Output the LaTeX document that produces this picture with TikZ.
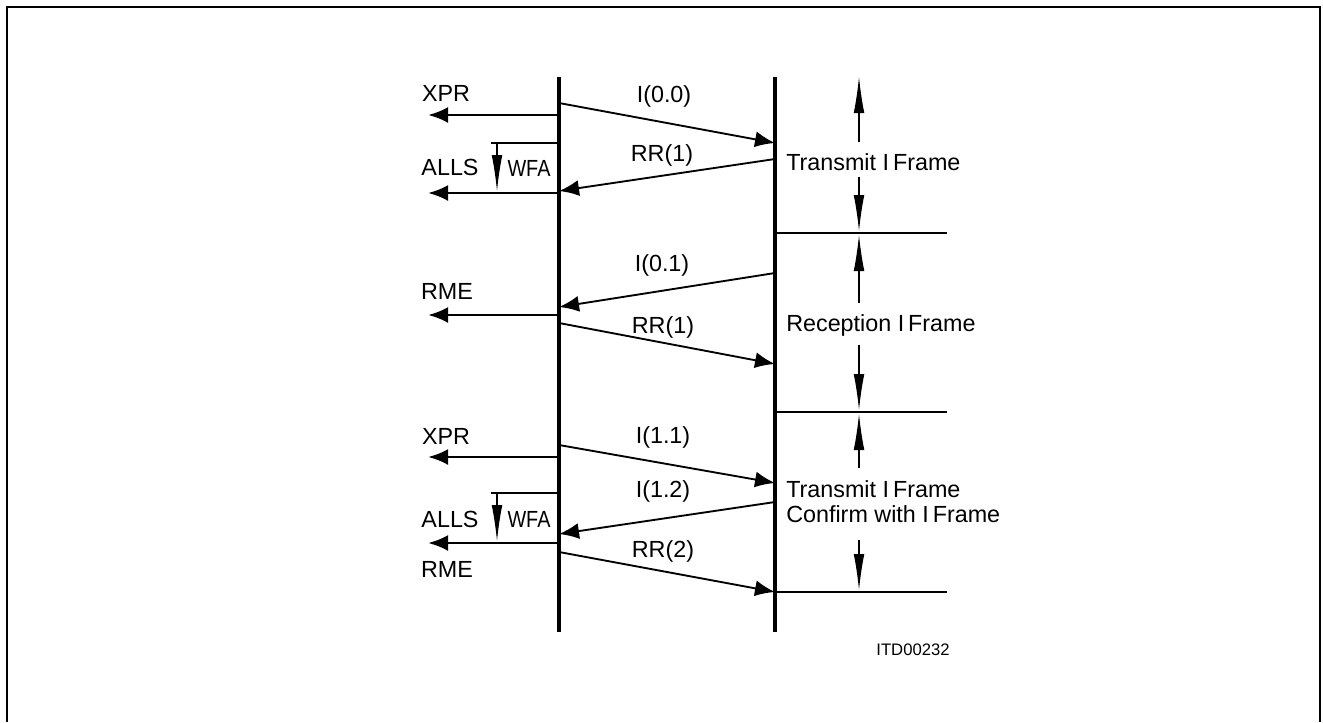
\documentclass[tikz,border=0pt]{standalone}
\usepackage{fontspec}
\setmainfont{Liberation Sans}
\usetikzlibrary{arrows.meta}
\begin{document}
\begin{tikzpicture}[x=0.75pt,y=-0.75pt,
  lifeline/.style={line width=3pt},
  outarrow/.style={line width=2.2pt,-{Latex[length=15pt,width=12pt]}},
  msg/.style={line width=1.4pt,-{Latex[length=15pt,width=12pt]}},
  thinline/.style={line width=0.8pt},
  dimarrow/.style={line width=0.8pt,-{Latex[length=27pt,width=8pt]}},
  lbl/.style={font=\fontsize{17.5}{20}\selectfont, inner sep=0pt},
  smalllbl/.style={font=\fontsize{12.5}{14}\selectfont, inner sep=0pt},
  ]
\useasboundingbox (0,0) rectangle (1323,722);
% frame (open at the bottom)
\draw[line width=1.5pt] (7,722) -- (7,7) -- (1320,7) -- (1320,722);

% lifelines
\coordinate (Atop) at (559,77);
\coordinate (Abot) at (559,632);
\coordinate (Btop) at (775,77);
\coordinate (Bbot) at (775,632);
\draw[lifeline] (Atop) -- (Abot);
\draw[lifeline] (Btop) -- (Bbot);

% ---------- section 1 ----------
\coordinate (xpr1s) at (559,115);  \coordinate (xpr1e) at (428,115);
\draw[outarrow] (xpr1s) -- (xpr1e);
\node[lbl] (xpr1) at (446,93) {XPR};

\coordinate (m1s) at (559,103); \coordinate (m1e) at (775,143);
\draw[msg] (m1s) -- (m1e);
\node[lbl] (m1l) at (664,96) {I(0.0)};

\coordinate (m2s) at (775,159); \coordinate (m2e) at (559,191);
\draw[msg] (m2s) -- (m2e);
\node[lbl] (m2l) at (662,155) {RR(1)};

\coordinate (alls1s) at (559,193); \coordinate (alls1e) at (428,193);
\draw[outarrow] (alls1s) -- (alls1e);
\node[lbl] (alls1) at (450,167) {ALLS};

\coordinate (wfa1a) at (491,143); \coordinate (wfa1b) at (559,143);
\draw[thinline] (wfa1a) -- (wfa1b);
\coordinate (wfa1s) at (497,143); \coordinate (wfa1e) at (497,191);
\draw[dimarrow] (wfa1s) -- (wfa1e);
\node[lbl] (wfa1) at (529,168) {\scalebox{0.85}[1]{WFA}};

% ---------- section 2 ----------
\coordinate (m3s) at (775,273); \coordinate (m3e) at (559,307);
\draw[msg] (m3s) -- (m3e);
\node[lbl] (m3l) at (662,265) {I(0.1)};

\coordinate (rme1s) at (559,315); \coordinate (rme1e) at (428,315);
\draw[outarrow] (rme1s) -- (rme1e);
\node[lbl] (rme1) at (447,291) {RME};

\coordinate (m4s) at (559,323); \coordinate (m4e) at (775,364);
\draw[msg] (m4s) -- (m4e);
\node[lbl] (m4l) at (663,327) {RR(1)};

% ---------- section 3 ----------
\coordinate (xpr2s) at (559,457);  \coordinate (xpr2e) at (428,457);
\draw[outarrow] (xpr2s) -- (xpr2e);
\node[lbl] (xpr2) at (446,436) {XPR};

\coordinate (m5s) at (559,445); \coordinate (m5e) at (775,483);
\draw[msg] (m5s) -- (m5e);
\node[lbl] (m5l) at (663,437) {I(1.1)};

\coordinate (m6s) at (775,502); \coordinate (m6e) at (559,534);
\draw[msg] (m6s) -- (m6e);
\node[lbl] (m6l) at (663,491) {I(1.2)};

\coordinate (wfa2a) at (491,493); \coordinate (wfa2b) at (559,493);
\draw[thinline] (wfa2a) -- (wfa2b);
\coordinate (wfa2s) at (497,493); \coordinate (wfa2e) at (497,541);
\draw[dimarrow] (wfa2s) -- (wfa2e);
\node[lbl] (wfa2) at (529,519) {\scalebox{0.85}[1]{WFA}};

\coordinate (alls2s) at (559,543); \coordinate (alls2e) at (428,543);
\draw[outarrow] (alls2s) -- (alls2e);
\node[lbl] (alls2) at (450,519) {ALLS};
\node[lbl] (rme2) at (447,569) {RME};

\coordinate (m7s) at (559,552); \coordinate (m7e) at (775,592);
\draw[msg] (m7s) -- (m7e);
\node[lbl] (m7l) at (663,551) {RR(2)};

% ---------- right-hand phase dimensions ----------
\coordinate (h1a) at (775,233); \coordinate (h1b) at (947,233);
\coordinate (h2a) at (775,412); \coordinate (h2b) at (947,412);
\coordinate (h3a) at (775,592); \coordinate (h3b) at (947,592);
\draw[thinline] (h1a) -- (h1b);
\draw[thinline] (h2a) -- (h2b);
\draw[thinline] (h3a) -- (h3b);

\node[lbl,anchor=west] (ph1) at (786,162) {Transmit I\,Frame};
\coordinate (d1a) at (859,142); \coordinate (d1b) at (859,77);
\coordinate (d1c) at (859,177); \coordinate (d1d) at (859,231);
\draw[dimarrow] (d1a) -- (d1b);
\draw[dimarrow] (d1c) -- (d1d);

\node[lbl,anchor=west] (ph2) at (786,325) {Reception I\,Frame};
\coordinate (d2a) at (859,303); \coordinate (d2b) at (859,235);
\coordinate (d2c) at (859,345); \coordinate (d2d) at (859,410);
\draw[dimarrow] (d2a) -- (d2b);
\draw[dimarrow] (d2c) -- (d2d);

\node[lbl,anchor=west] (ph3a) at (786,489) {Transmit I\,Frame};
\node[lbl,anchor=west] (ph3b) at (786,514) {Confirm with I\,Frame};
\coordinate (d3a) at (859,468); \coordinate (d3b) at (859,414);
\coordinate (d3c) at (859,540); \coordinate (d3d) at (859,590);
\draw[dimarrow] (d3a) -- (d3b);
\draw[dimarrow] (d3c) -- (d3d);

\node[smalllbl] (itd) at (913,650) {ITD00232};
\end{tikzpicture}
\end{document}
